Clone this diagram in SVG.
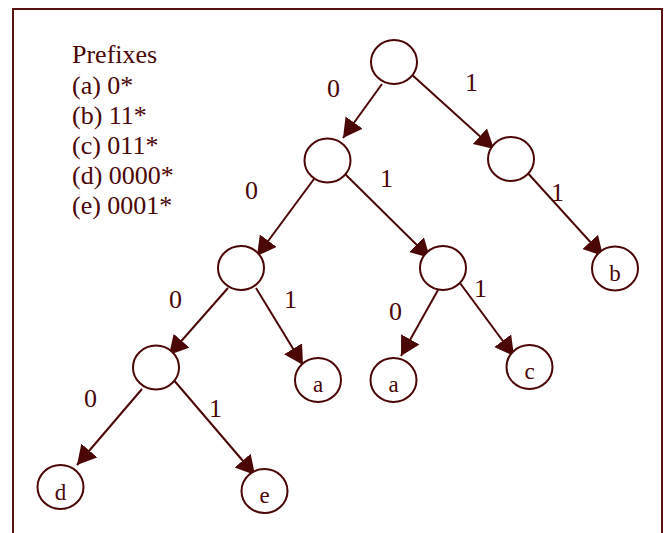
<svg xmlns="http://www.w3.org/2000/svg" width="666" height="533" viewBox="0 0 666 533">
<style>
.frame{fill:#ffffff;stroke:#5a1414;stroke-width:2}
.node{fill:#ffffff;stroke:#4b0606;stroke-width:2}
.edge{stroke:#4b0606;stroke-width:2;fill:none;marker-end:url(#ah)}
.lbl{font-family:"Liberation Serif","Times New Roman",serif;font-size:26px;fill:#4b0606}
.leg{font-family:"Liberation Serif","Times New Roman",serif;font-size:26px;fill:#4b0606}
.nl{font-family:"Liberation Serif","Times New Roman",serif;font-size:23px;fill:#4b0606;text-anchor:middle}
</style>
<defs>
<marker id="ah" markerUnits="userSpaceOnUse" markerWidth="20" markerHeight="22" refX="19" refY="10.5" orient="auto" viewBox="0 0 20 22">
<path d="M0,0 L19,10.5 L0,21 z" fill="#4b0606"/>
</marker>
</defs>
<rect class="frame" x="13" y="9" width="649" height="540"/>
<g id="legend">
<text class="leg" x="72" y="63">Prefixes</text>
<text class="leg" x="72" y="94">(a) 0*</text>
<text class="leg" x="72" y="124">(b) 11*</text>
<text class="leg" x="72" y="154">(c) 011*</text>
<text class="leg" x="72" y="184">(d) 0000*</text>
<text class="leg" x="72" y="214">(e) 0001*</text>
</g>
<g id="connectors">
<line class="edge" x1="382" y1="84" x2="343" y2="138"/>
<line class="edge" x1="410" y1="73" x2="494" y2="149"/>
<line class="edge" x1="314" y1="179" x2="257" y2="256"/>
<line class="edge" x1="343" y1="172" x2="430" y2="258"/>
<line class="edge" x1="525" y1="170" x2="603" y2="256"/>
<line class="edge" x1="228" y1="288" x2="169" y2="355"/>
<line class="edge" x1="256" y1="288" x2="303" y2="365"/>
<line class="edge" x1="438" y1="290" x2="401" y2="356"/>
<line class="edge" x1="457" y1="279" x2="514" y2="356"/>
<line class="edge" x1="142" y1="389" x2="77" y2="465"/>
<line class="edge" x1="172" y1="378" x2="255" y2="475"/>
<text class="lbl" x="327" y="97">0</text>
<text class="lbl" x="465" y="91">1</text>
<text class="lbl" x="245" y="199">0</text>
<text class="lbl" x="380" y="187">1</text>
<text class="lbl" x="551" y="201">1</text>
<text class="lbl" x="169" y="308">0</text>
<text class="lbl" x="284" y="308">1</text>
<text class="lbl" x="389" y="320">0</text>
<text class="lbl" x="474" y="297">1</text>
<text class="lbl" x="84" y="407">0</text>
<text class="lbl" x="209" y="417">1</text>
</g>
<g id="root"><ellipse class="node" cx="394" cy="62" rx="23" ry="22"/></g>
<g id="n0"><ellipse class="node" cx="327.5" cy="160.5" rx="23" ry="22"/></g>
<g id="n1"><ellipse class="node" cx="511" cy="159" rx="23" ry="22"/></g>
<g id="n00"><ellipse class="node" cx="241" cy="268" rx="23" ry="22"/></g>
<g id="n01"><ellipse class="node" cx="443" cy="268" rx="23" ry="22"/></g>
<g id="n000"><ellipse class="node" cx="156" cy="367.5" rx="23" ry="22"/></g>
<g id="leaf-a1"><ellipse class="node" cx="318" cy="380" rx="23" ry="22"/><text class="nl" x="318" y="392">a</text></g>
<g id="leaf-a2"><ellipse class="node" cx="393.5" cy="380" rx="23" ry="22"/><text class="nl" x="393.5" y="392">a</text></g>
<g id="leaf-c"><ellipse class="node" cx="529.5" cy="367" rx="23" ry="22"/><text class="nl" x="529.5" y="379">c</text></g>
<g id="leaf-b"><ellipse class="node" cx="615" cy="268.5" rx="23" ry="22"/><text class="nl" x="615" y="281">b</text></g>
<g id="leaf-d"><ellipse class="node" cx="60.5" cy="487" rx="23" ry="22"/><text class="nl" x="60.5" y="500">d</text></g>
<g id="leaf-e"><ellipse class="node" cx="264.5" cy="491" rx="23" ry="22"/><text class="nl" x="264.5" y="503">e</text></g>
</svg>
